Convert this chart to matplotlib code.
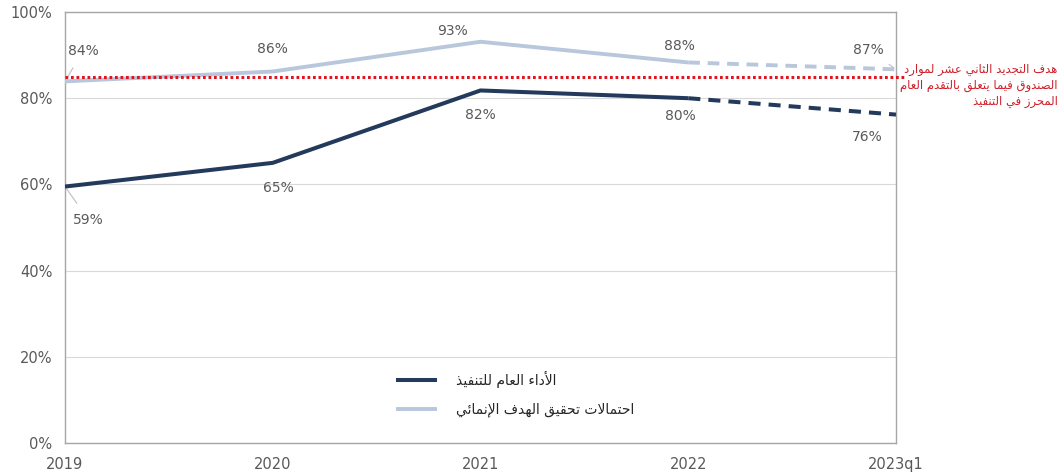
import matplotlib
matplotlib.use("Agg")
from matplotlib import pyplot as plt

# data
years = ["2019", "2020", "2021", "2022", "2023q1"]
overall = [59.5, 65.0, 81.8, 80.0, 76.2]
dev_obj = [83.9, 86.2, 93.1, 88.3, 86.7]
overall_lbl = ["59%", "65%", "82%", "80%", "76%"]
dev_lbl = ["84%", "86%", "93%", "88%", "87%"]
target = 85.0

legend_overall = "الأداء العام للتنفيذ"
legend_dev = "احتمالات تحقيق الهدف الإنمائي"
target_lines = ["هدف التجديد الثاني عشر لموارد",
                "الصندوق فيما يتعلق بالتقدم العام",
                "المحرز في التنفيذ"]

# small arabic shaper (matplotlib draws glyphs left to right, no joining)
DUAL = {"ئ": 0xFE89, "ب": 0xFE8F, "ت": 0xFE95, "ث": 0xFE99, "ج": 0xFE9D,
        "ح": 0xFEA1, "خ": 0xFEA5, "س": 0xFEB1, "ش": 0xFEB5, "ص": 0xFEB9,
        "ض": 0xFEBD, "ط": 0xFEC1, "ظ": 0xFEC5, "ع": 0xFEC9, "غ": 0xFECD,
        "ف": 0xFED1, "ق": 0xFED5, "ك": 0xFED9, "ل": 0xFEDD, "م": 0xFEE1,
        "ن": 0xFEE5, "ه": 0xFEE9, "ي": 0xFEF1}
RIGHT = {"آ": 0xFE81, "أ": 0xFE83, "ؤ": 0xFE85, "إ": 0xFE87, "ا": 0xFE8D,
         "ة": 0xFE93, "د": 0xFEA9, "ذ": 0xFEAB, "ر": 0xFEAD, "ز": 0xFEAF,
         "و": 0xFEED, "ى": 0xFEEF}
LAMALEF = {"آ": 0xFEF5, "أ": 0xFEF7, "إ": 0xFEF9, "ا": 0xFEFB}


def shape(s):
    # merge lam + alef into ligature tokens
    toks = []
    i = 0
    while i < len(s):
        if s[i] == "ل" and i + 1 < len(s) and s[i + 1] in LAMALEF:
            toks.append(("LA", LAMALEF[s[i + 1]]))
            i += 2
        else:
            toks.append((s[i], None))
            i += 1

    def kind(t):
        c, _ = t
        if c == "LA" or c in RIGHT:
            return "R"
        if c in DUAL:
            return "D"
        return None

    out = []
    for j, t in enumerate(toks):
        k = kind(t)
        prev_d = j > 0 and kind(toks[j - 1]) == "D"
        next_j = j + 1 < len(toks) and kind(toks[j + 1]) is not None
        if k is None:
            out.append(t[0] if t[0] != "ء" else chr(0xFE80))
            continue
        base = t[1] if t[0] == "LA" else (DUAL.get(t[0]) or RIGHT.get(t[0]))
        if k == "R":
            out.append(chr(base + 1 if prev_d else base))
        else:
            if prev_d and next_j:
                out.append(chr(base + 3))
            elif prev_d:
                out.append(chr(base + 1))
            elif next_j:
                out.append(chr(base + 2))
            else:
                out.append(chr(base))
    return "".join(reversed(out))


plt.rcParams['font.family'] = ['DejaVu Sans']

dark = "#243a5c"
light = "#b8c7dc"
gray = "#595959"

fig = plt.figure(figsize=(10.62, 4.75), dpi=100)
ax = fig.add_axes([0.0612, 0.0674, 0.7825, 0.9073])
x = list(range(len(years)))

ax.plot(x[:4], dev_obj[:4], color=light, lw=2.8, solid_capstyle="butt", zorder=3)
ax.plot(x[3:], dev_obj[3:], color=light, lw=2.8, ls=(0, (3, 2)), zorder=3)
ax.plot(x[:4], overall[:4], color=dark, lw=2.9, solid_capstyle="butt", zorder=4)
ax.plot(x[3:], overall[3:], color=dark, lw=2.9, ls=(0, (3, 2)), zorder=4)
ax.plot([0, 4.04], [target, target], color="#e0141e", lw=2.2, ls=(0, (0.9, 0.9)),
        clip_on=False, zorder=5)

ax.set_xlim(0, 4)
ax.set_ylim(0, 100)
ax.set_yticks([0, 20, 40, 60, 80, 100])
ax.set_yticklabels(["0%", "20%", "40%", "60%", "80%", "100%"])
ax.set_xticks(x)
ax.set_xticklabels(years)
ax.tick_params(length=0, colors=gray, labelsize=10.5)
ax.tick_params(axis="x", pad=10)
ax.tick_params(axis="y", pad=9)
ax.grid(axis="y", color="#d9d9d9", lw=0.8)
ax.set_axisbelow(True)
for sp in ax.spines.values():
    sp.set_color("#a6a6a6")
    sp.set_linewidth(1)

# data labels (offsets in points)
dev_off = [(13, 22), (0, 16), (-20, 8), (-6, 12), (-20, 14)]
ov_off = [(17, -24), (4, -18), (0, -18), (-6, -13), (-21, -16)]
for i in range(len(years)):
    lead = i in (0, 4)
    ax.annotate(dev_lbl[i], (x[i], dev_obj[i]), xytext=dev_off[i], textcoords="offset points",
                ha="center", va="center", color=gray, fontsize=10, annotation_clip=False,
                arrowprops=dict(arrowstyle="-", color="#bfbfbf", lw=0.8, shrinkA=6, shrinkB=2)
                if lead else None)
    lead = i == 0
    ax.annotate(overall_lbl[i], (x[i], overall[i]), xytext=ov_off[i],
                textcoords="offset points", ha="center", va="center", color=gray, fontsize=10,
                annotation_clip=False,
                arrowprops=dict(arrowstyle="-", color="#bfbfbf", lw=0.8, shrinkA=6, shrinkB=2)
                if lead else None)

# legend
h1, = ax.plot([], [], color=dark, lw=2.9)
h2, = ax.plot([], [], color=light, lw=2.8)
ax.legend([h1, h2], [shape(legend_overall), shape(legend_dev)], loc="center",
          bbox_to_anchor=(0.543, 0.113), frameon=False, fontsize=10, handlelength=2.7,
          handletextpad=1.5, labelspacing=1.05, labelcolor="#262626")

# target annotation
for k, line in enumerate(target_lines):
    fig.text(0.996, 1 - (69 + 16.5 * k) / 475, shape(line), ha="right", va="center",
             color="#d0202a", fontsize=8.4)

fig.savefig("out.png", dpi=100)
